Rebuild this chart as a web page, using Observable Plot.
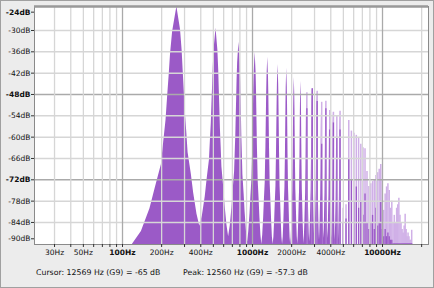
<!DOCTYPE html>
<html><head><meta charset="utf-8">
<script src="https://cdn.jsdelivr.net/npm/d3@7"></script>
<script src="https://cdn.jsdelivr.net/npm/@observablehq/plot@0.6"></script>
<style>
html,body{margin:0;padding:0;background:#ececec;}
#wrap{position:relative;width:434px;height:288px;overflow:hidden;background:#ececec;font-family:"DejaVu Sans",sans-serif;}
#chart{position:absolute;left:0;top:0;}
.cap{position:absolute;top:267px;font-size:7.8px;color:#111;white-space:pre;line-height:11px;}
#edge{position:absolute;left:0;top:0;width:432px;height:286px;border:1px solid #a0a0a0;pointer-events:none;}
</style></head><body>
<div id="wrap"><div id="chart"></div>
<div class="cap" id="cap1" style="left:36px"></div>
<div class="cap" id="cap2" style="left:183px"></div>
<div id="edge"></div></div>
<script>
// Harmonic peaks (Hz, peak dB, top of the dark part of each spike)
const harmonicHz = [262,524,786,1048,1310,1572,1834,2096,2358,2620,2882,3144,3406,3668,3930,4192,4454,4716,4978,5240,5502,5764,6026,6288,6550,6812,7074,7336,7598,7860,8122,8384,8646,8908,9170,9432,9694,9956,10218,10480,10742,11004,11266,11528,11790,12052,12314,12576,12838,13100,13362,13624,13886,14148,14410,14672,14934,15196,15458,15720,15982,16244,16506,16768];
const harmonicDb = [-23.3,-29.4,-33.3,-36.1,-37.5,-39.6,-40.6,-43.2,-44.3,-47.5,-46.4,-47.1,-50.2,-49.9,-52.5,-53,-54.1,-52.7,-80,-79,-55.3,-58.3,-58.9,-59.5,-60.2,-62,-63,-63.3,-69.7,-73.9,-73.1,-72.5,-72,-70.8,-70,-69,-67.7,-72,-80.6,-76,-74,-73.1,-75,-80,-78,-84,-82,-84,-80,-79,-77.2,-82,-84,-86,-87,-85,-81.7,-86,-88,-87,-88,-89,-89,-86.2];
const harmonicDarkDb = [-23.3,-29.4,-33.3,-36.1,-37.5,-39.6,-40.6,-43.2,-44.3,-52,-46.4,-50,-62,-52,-58,-56,-60,-58,-84,-83,-66,-72,-78,-74,-80,-78,-82,-76,-84,-86,-84,-82,-86,-80,-85,-84,-78,-86,-88,-86,-88,-87,-88,-89,-89,-90,-90,-90,-90,-90,-90,-90,-90,-90,-90,-90,-90,-90,-90,-90,-90,-90,-90,-90];
// Level of the valley to the right of each of the first harmonics (dB)
const valleyDb = [-85.1,-88,-89.5,-90.5,-91,-91,-91,-90.5,-90,-89.5,-89,-89,-88.5,-88.5,-88.5,-89,-89,-92];
// Peak shape read from the fundamental: fraction of the drop to the valley vs fraction of the way to it
const shapeDropFrac = [0, 0.105, 0.2, 0.29, 0.385, 0.48, 0.57, 0.665, 0.76, 0.85, 0.945, 1];
const shapeOffsetFrac = [0, 0.133, 0.195, 0.235, 0.28, 0.322, 0.382, 0.44, 0.58, 0.695, 0.855, 1];
const halfSpacingHz = 131;
const fundamentalLeftHalfHz = 143;

// Axis ticks and texts
const dbMinor = [-30,-36,-42,-54,-60,-66,-78,-84];
const dbMajor = [-48,-72];
const hzMinor = [30,40,50,60,70,80,90,200,300,400,500,600,700,800,900,2000,3000,4000,5000,6000,7000,8000,9000,20000];
const hzMajor = [100,1000,10000];
const hzLabels = [30,50,200,400,2000,4000];
const hzLabelsBold = [100,1000,10000];
const cursorText = "Cursor: 12569 Hz (G9) = -65 dB";
const peakText = "Peak: 12560 Hz (G9) = -57.3 dB";

const floorDb = -90.2, topDb = -23.25;
const dark = "#9b5ac7", light = "#d0b0e7";

const outline = [];
valleyDb.forEach((vR, i) => {
  const f = harmonicHz[i], p = harmonicDb[i];
  const vL = i === 0 ? floorDb : valleyDb[i - 1];
  const hL = i === 0 ? fundamentalLeftHalfHz : halfSpacingHz;
  for (let k = shapeDropFrac.length - 1; k > 0; k--) outline.push({hz: f - shapeOffsetFrac[k] * hL, db: p - shapeDropFrac[k] * (p - vL)});
  outline.push({hz: f, db: p});
  for (let k = 1; k < shapeDropFrac.length; k++) outline.push({hz: f + shapeOffsetFrac[k] * halfSpacingHz, db: p - shapeDropFrac[k] * (p - vR)});
});
const spikes = harmonicHz.map((hz, i) => ({hz, db: harmonicDb[i], darkDb: harmonicDarkDb[i]})).slice(9);

const fmt = d => d + "Hz";
const chart = Plot.plot({
  width: 434, height: 262,
  marginLeft: 34, marginRight: 6, marginTop: 6, marginBottom: 18,
  x: {type: "log", domain: [21.04, 22582], label: null},
  y: {domain: [floorDb, topDb], clamp: true, label: null},
  style: {background: "transparent", fontFamily: "DejaVu Sans", fontSize: "7.5px", color: "#111"},
  marks: [
    Plot.frame({fill: "white", stroke: null}),
    Plot.areaY(outline, {x: "hz", y1: floorDb, y2: "db", fill: dark, curve: "linear"}),
    Plot.ruleX(spikes, {x: "hz", y1: floorDb, y2: "db", stroke: light, strokeWidth: 1.5}),
    Plot.ruleX(spikes, {x: "hz", y1: floorDb, y2: "darkDb", stroke: dark, strokeWidth: 1.3}),
    Plot.ruleY(dbMinor, {stroke: "#d6d6d6", strokeWidth: 1.5}),
    Plot.ruleY(dbMajor, {stroke: "#aaaaaa", strokeWidth: 1.5}),
    Plot.ruleX(hzMinor, {stroke: "#d6d6d6", strokeWidth: 1.3}),
    Plot.ruleX(hzMajor, {stroke: "#aaaaaa", strokeWidth: 1.3}),
    Plot.frame({stroke: "#8a8a8a"}),
    Plot.ruleY([topDb], {stroke: "#999", strokeWidth: 2.5}),
    Plot.axisY(dbMinor, {tickSize: 3, tickPadding: 1, tickFormat: d => d + "dB", stroke: "#333"}),
    Plot.axisY(dbMajor, {tickSize: 3, tickPadding: 1, tickFormat: d => d + "dB", fontWeight: "bold", stroke: "#333"}),
    Plot.axisY([-24], {tickSize: 3, tickPadding: 1, tickFormat: d => d + "dB", fontWeight: "bold", dy: 3, stroke: "#333"}),
    Plot.axisY([-90], {tickSize: 3, tickPadding: 1, tickFormat: d => d + "dB", dy: -5, stroke: "#333"}),
    Plot.axisX([...hzMinor, ...hzMajor], {tickSize: 3, tickFormat: () => "", stroke: "#333"}),
    Plot.text(hzLabels, {x: d => d, text: fmt, frameAnchor: "bottom", dy: 10, fill: "#111"}),
    Plot.text(hzLabelsBold, {x: d => d, text: fmt, frameAnchor: "bottom", dy: 10, fontWeight: "bold", fill: "#111"})
  ]
});
document.getElementById("chart").appendChild(chart);
document.getElementById("cap1").textContent = cursorText;
document.getElementById("cap2").textContent = peakText;
</script>
</body></html>
